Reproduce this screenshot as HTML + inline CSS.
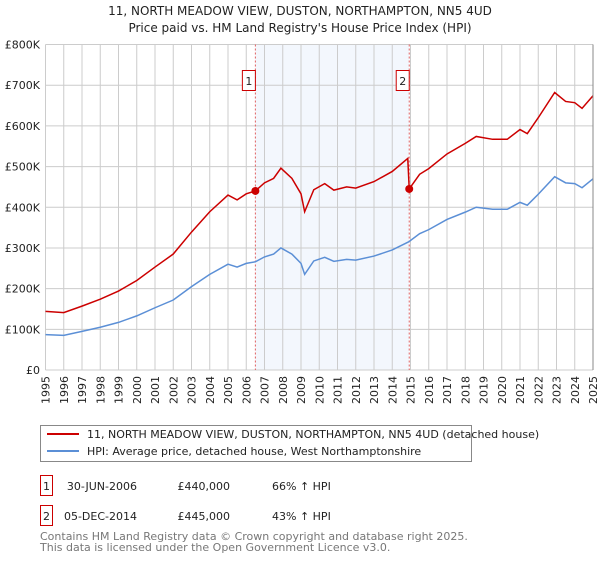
<!DOCTYPE html>
<html><head><meta charset="utf-8"><style>
body{margin:0;background:#fff;width:600px;height:560px;overflow:hidden;font-family:"DejaVu Sans","Liberation Sans",sans-serif;}
svg text{font-family:"DejaVu Sans","Liberation Sans",sans-serif;}
</style></head><body>
<svg id="chart" width="600" height="560" xmlns="http://www.w3.org/2000/svg">
<text x="300" y="15" text-anchor="middle" font-size="12" fill="#222">11, NORTH MEADOW VIEW, DUSTON, NORTHAMPTON, NN5 4UD</text>
<text x="300" y="32" text-anchor="middle" font-size="12" fill="#222">Price paid vs. HM Land Registry's House Price Index (HPI)</text>
<g id="plot"></g>
<g>
<rect x="40.5" y="425.5" width="431" height="36" fill="#fff" stroke="#888"/>
<line x1="47" y1="434" x2="79" y2="434" stroke="#cc0000" stroke-width="2"/>
<text x="87" y="438" font-size="11" fill="#222">11, NORTH MEADOW VIEW, DUSTON, NORTHAMPTON, NN5 4UD (detached house)</text>
<line x1="47" y1="451" x2="79" y2="451" stroke="#5b8fd6" stroke-width="2"/>
<text x="87" y="455" font-size="11" fill="#222">HPI: Average price, detached house, West Northamptonshire</text>
</g>
<g>
<rect x="40.5" y="475.5" width="12" height="20" fill="#fff" stroke="#cc0000"/>
<text x="46.5" y="490" text-anchor="middle" font-size="11" fill="#222">1</text>
<text x="137" y="490" text-anchor="end" font-size="11" fill="#222">30-JUN-2006</text>
<text x="230" y="490" text-anchor="end" font-size="11" fill="#222">£440,000</text>
<text x="272" y="490" font-size="11" fill="#222">66% ↑ HPI</text>
<rect x="40.5" y="505.5" width="12" height="20" fill="#fff" stroke="#cc0000"/>
<text x="46.5" y="520" text-anchor="middle" font-size="11" fill="#222">2</text>
<text x="137" y="520" text-anchor="end" font-size="11" fill="#222">05-DEC-2014</text>
<text x="230" y="520" text-anchor="end" font-size="11" fill="#222">£445,000</text>
<text x="272" y="520" font-size="11" fill="#222">43% ↑ HPI</text>
</g>
<text x="40" y="540" font-size="11" fill="#777">Contains HM Land Registry data © Crown copyright and database right 2025.</text>
<text x="40" y="551" font-size="11" fill="#777">This data is licensed under the Open Government Licence v3.0.</text>
</svg>
<script>
const hpiYears=[1995,1996,1997,1998,1999,2000,2001,2002,2003,2004,2005,2005.5,2006,2006.5,2007,2007.5,2007.9,2008.5,2009.0,2009.2,2009.7,2010.3,2010.8,2011.5,2012,2013,2014,2014.9,2015.5,2016,2017,2018,2018.6,2019.5,2020.3,2021,2021.4,2022,2022.9,2023.5,2024,2024.4,2025];
const hpiValues=[87,85,95,105,117,133,153,172,205,235,260,253,262,266,278,285,300,285,262,235,268,277,267,272,270,280,295,315,335,345,370,388,400,395,395,412,405,432,475,460,458,448,470];
const priceYears=[1995,1996,1997,1998,1999,2000,2001,2002,2003,2004,2005,2005.5,2006,2006.5,2007,2007.5,2007.9,2008.5,2009.0,2009.2,2009.7,2010.3,2010.8,2011.5,2012,2013,2014,2014.85,2014.93,2015.5,2016,2017,2018,2018.6,2019.5,2020.3,2021,2021.4,2022,2022.9,2023.5,2024,2024.4,2025];
const priceValues=[144,141,157,174,194,220,253,285,339,389,430,418,433,440,460,471,496,471,433,389,443,458,442,450,447,463,488,520,445,481,495,531,557,574,567,567,591,581,620,682,660,657,643,674];
const saleYears=[2006.5,2014.93];
const saleValues=[440,445];
const saleLabels=["1","2"];
const yTicks=[0,100,200,300,400,500,600,700,800];
const yTickLabels=["£0","£100K","£200K","£300K","£400K","£500K","£600K","£700K","£800K"];
const xTicks=[1995,1996,1997,1998,1999,2000,2001,2002,2003,2004,2005,2006,2007,2008,2009,2010,2011,2012,2013,2014,2015,2016,2017,2018,2019,2020,2021,2022,2023,2024,2025];

const X0=45.5,X1=593,Y0=370,Y1=44.5;
const xs=y=>X0+(y-1995)/30*(X1-X0);
const ys=v=>Y0-v/800*(Y0-Y1);
const NS="http://www.w3.org/2000/svg";
const g=document.getElementById('plot');
function mk(t,a){const e=document.createElementNS(NS,t);for(const k in a)e.setAttribute(k,a[k]);g.appendChild(e);return e;}

const shade=mk('rect',{x:xs(saleYears[0]),y:Y1,width:xs(saleYears[1])-xs(saleYears[0]),height:Y0-Y1,fill:'#eef3fc',opacity:0.7});


xTicks.forEach((t,i)=>{
  const l=mk('line',{x1:xs(t),x2:xs(t),y1:Y1,y2:Y0,stroke:'#cccccc','stroke-width':1});
  
  
  const tx=mk('text',{x:0,y:0,'font-size':11,fill:'#222','text-anchor':'end',transform:`translate(${xs(t)+4},${Y0+6}) rotate(-90)`});
  tx.textContent=t;
  
  
});
yTicks.forEach((t,i)=>{
  const l=mk('line',{x1:X0,x2:X1,y1:ys(t),y2:ys(t),stroke:'#cccccc','stroke-width':1});
  
  
  const tx=mk('text',{x:40,y:ys(t)+4,'font-size':11,fill:'#222','text-anchor':'end'});
  tx.textContent=yTickLabels[i];
  
  
});
saleYears.forEach((s,i)=>{
  const l=mk('line',{x1:xs(s),x2:xs(s),y1:Y1,y2:Y0,stroke:'#e06060','stroke-width':1,'stroke-dasharray':'2,2'});
  
  
  const r=mk('rect',{x:xs(s)-13,y:70.5,width:13,height:20,fill:'#fff',stroke:'#cc0000'});
  
  
  const t=mk('text',{x:xs(s)-6.5,y:85,'font-size':11,'text-anchor':'middle',fill:'#222'});
  t.textContent=saleLabels[i];
  
  
});
const hp=mk('polyline',{points:hpiYears.map((y,i)=>xs(y)+','+ys(hpiValues[i])).join(' '),fill:'none',stroke:'#5b8fd6','stroke-width':1.5});


const pp=mk('polyline',{points:priceYears.map((y,i)=>xs(y)+','+ys(priceValues[i])).join(' '),fill:'none',stroke:'#cc0000','stroke-width':1.5});


saleYears.forEach((s,i)=>{
  const c=mk('circle',{cx:xs(s),cy:ys(saleValues[i]),r:4,fill:'#cc0000'});
  
  
});
const ax=mk('line',{x1:X1,x2:X1,y1:Y1,y2:Y0,stroke:'#888','stroke-width':1});


</script>
</body></html>
